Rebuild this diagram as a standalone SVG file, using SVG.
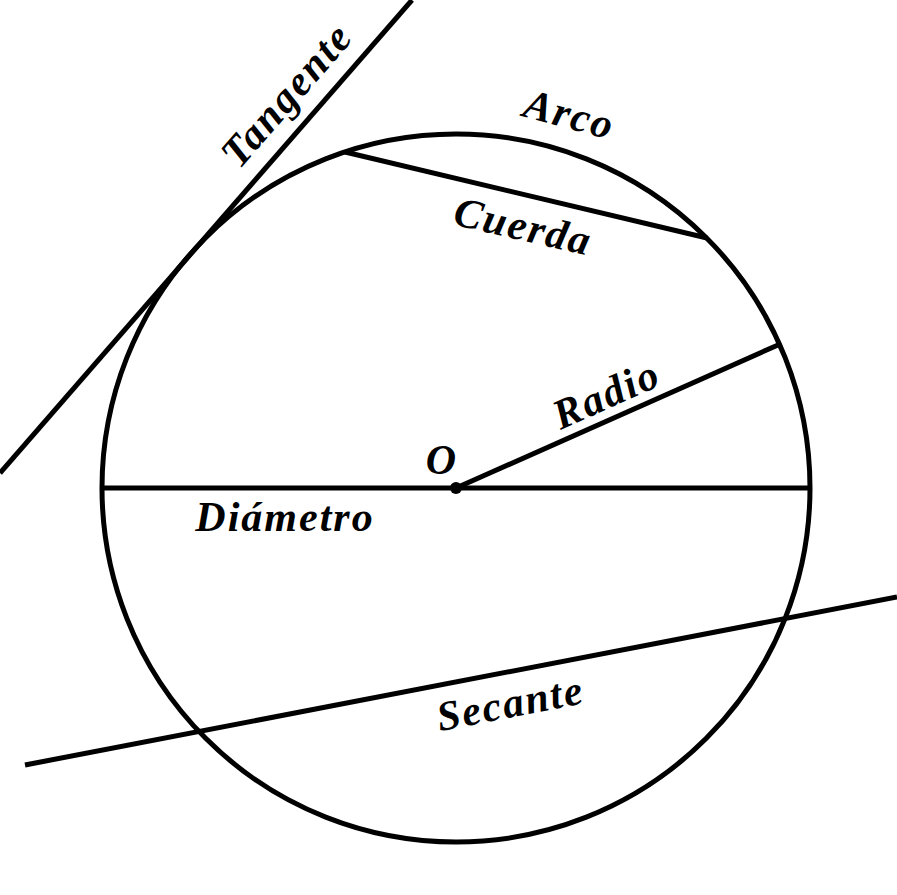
<svg xmlns="http://www.w3.org/2000/svg" width="897" height="895" viewBox="0 0 897 895">
<style>
.l{stroke:#000;stroke-width:5;fill:none}
text{font-family:"Liberation Serif","DejaVu Serif",serif;font-style:italic;font-weight:bold;font-size:42px;text-anchor:middle;fill:#000;letter-spacing:2px}
</style>
<rect width="897" height="895" fill="#fff"/>
<g id="shapes">
<circle class="l" cx="456" cy="488" r="354"/>
<line class="l" x1="102" y1="488" x2="810" y2="488"/>
<line class="l" x1="456" y1="488" x2="778" y2="345"/>
<line class="l" x1="345" y1="152" x2="707" y2="238"/>
<line class="l" x1="0" y1="473" x2="412" y2="0"/>
<line class="l" x1="25" y1="765" x2="897" y2="597"/>
<circle cx="456" cy="488" r="6" fill="#000"/>
</g>
<g id="labels">
<text transform="translate(297,104) rotate(-48.8)">Tangente</text>
<text transform="translate(566,128) rotate(15)">Arco</text>
<text transform="translate(520,240) rotate(13)">Cuerda</text>
<text transform="translate(612,407) rotate(-24)">Radio</text>
<text x="442" y="474">O</text>
<text x="285" y="531">Diámetro</text>
<text transform="translate(513,717) rotate(-11)">Secante</text>
</g>
</svg>
